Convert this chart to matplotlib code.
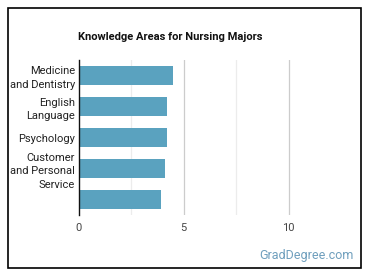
#================================================================================
# Knowledge areas bar chart (GradDegree style)
#================================================================================

import matplotlib.pyplot as plt
from matplotlib.patches import Rectangle

#================================================================================
# Data

categories = ["Medicine\nand Dentistry", "English\nLanguage", "Psychology",
              "Customer\nand Personal\nService", ""]
scores = [4.48, 4.2, 4.2, 4.11, 3.92]
xticks = [0, 5, 10]

#================================================================================
# Plot

plt.rcParams['font.family'] = ['Roboto', 'DejaVu Sans']

fig = plt.figure(figsize=(3.7, 2.78), dpi=100)
ax = fig.add_axes([79 / 370, 1 - 215 / 278, (341 - 79) / 370, (215 - 60) / 278])

ypos = list(range(len(categories)))
ax.barh(ypos, scores, height=0.63, color="#5aa2bf", zorder=2)
ax.set_ylim(4.5, -0.5)
ax.set_xlim(0, 12.5)

ax.set_yticks(ypos)
ax.set_yticklabels(categories, fontsize=8, color="#222222", linespacing=1.45)
ax.set_xticks(xticks)
ax.set_xticklabels([str(t) for t in xticks], fontsize=8, color="#444444")
ax.tick_params(length=0, pad=6)
ax.tick_params(axis="y", pad=3)

# major and minor vertical grid lines
for x in [5, 10]:
    ax.axvline(x, color="#cccccc", lw=0.9, zorder=1)
for x in [2.5, 7.5]:
    ax.axvline(x, color="#ececec", lw=0.9, zorder=1)

for s in ["top", "right", "bottom"]:
    ax.spines[s].set_visible(False)
ax.spines["left"].set_color("#111111")
ax.spines["left"].set_linewidth(1.0)
ax.spines["left"].set_zorder(3)

fig.text(170 / 370, 1 - 37 / 278, "Knowledge Areas for Nursing Majors",
         fontsize=8, fontweight="bold", ha="center", va="center", color="#111111")
fig.text(354 / 370, 1 - 256 / 278, "GradDegree.com", fontsize=9,
         ha="right", va="center", color="#6f9fbd")

# outer frame
fig.patches.append(Rectangle((7.5 / 370, 1 - 268 / 278), (361 - 7.5) / 370,
                             (268 - 8) / 278, transform=fig.transFigure,
                             fill=False, edgecolor="black", lw=1.2))

fig.savefig("out.png", dpi=100)
